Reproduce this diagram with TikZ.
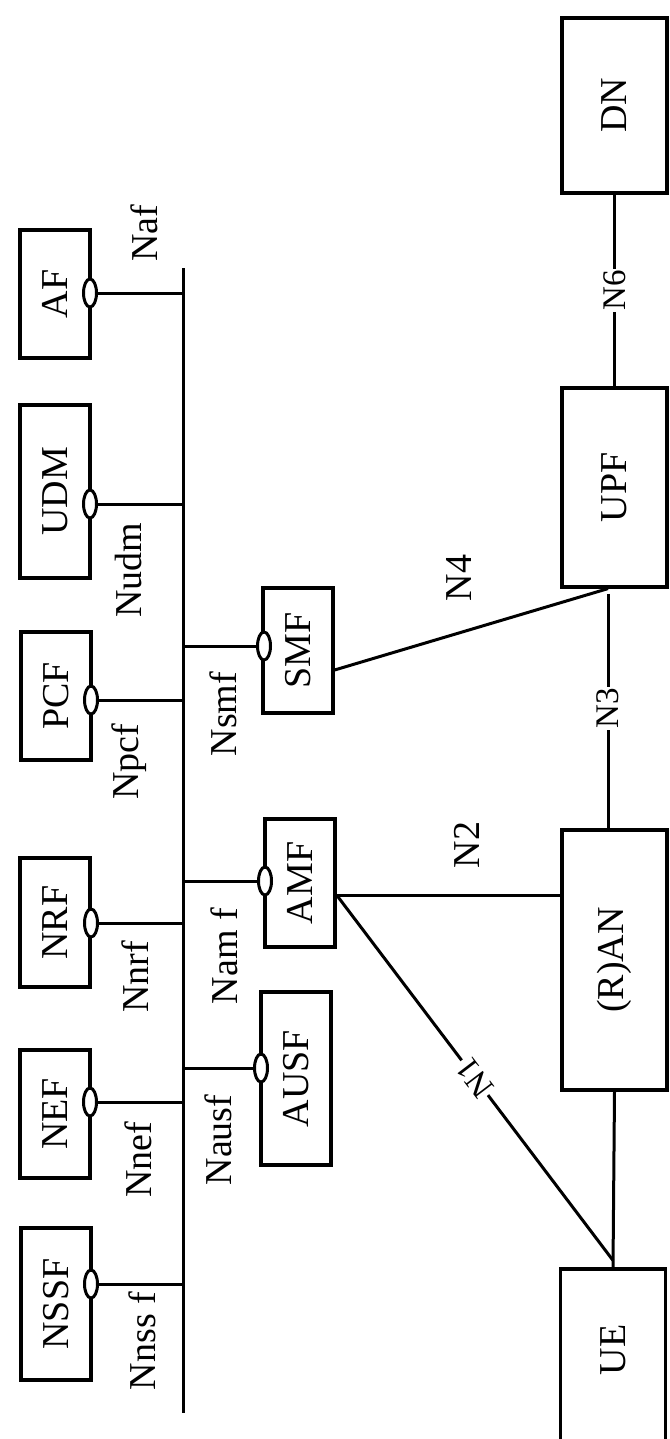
\documentclass[tikz,border=0pt]{standalone}
\usepackage{fontspec}
\usepackage{graphicx}
\setmainfont{Liberation Serif}
\usetikzlibrary{shapes.geometric}
\newcommand\biglbl{\fontsize{38}{40}\selectfont}
\newcommand\smalllbl{\fontsize{33}{35}\selectfont}
\begin{document}
\begin{tikzpicture}[x=1pt,y=-1pt,
  nf/.style={draw, line width=3.2pt, inner sep=0pt, font=\biglbl},
  lcol/.style={nf, minimum width=70pt},
  rcol/.style={nf, minimum width=105pt},
  ifc/.style={ellipse, draw, line width=3pt, fill=white, minimum width=13pt, minimum height=28pt, inner sep=0pt},
  ln/.style={line width=3pt},
  lbl/.style={inner sep=0pt, font=\biglbl},
  elbl/.style={fill=white, inner sep=1.5pt, font=\smalllbl}]
\clip (0,0) rectangle (669,1439);
\fill[white] (0,0) rectangle (669,1439);

% bus
\coordinate (bustop) at (183,268);
\coordinate (busbot) at (183,1413);
\draw[ln] (bustop) -- (busbot);

% left column
\node[lcol, minimum height=128pt] (af)   at (55,294)    {\rotatebox{90}{AF}};
\node[lcol, minimum height=173pt] (udm)  at (55,491.5)  {\rotatebox{90}{UDM}};
\node[lcol, minimum height=128pt] (pcf)  at (56,696)    {\rotatebox{90}{PCF}};
\node[lcol, minimum height=129pt] (nrf)  at (55,922.5)  {\rotatebox{90}{NRF}};
\node[lcol, minimum height=128pt] (nef)  at (55,1114)   {\rotatebox{90}{NEF}};
\node[lcol, minimum height=152pt] (nssf) at (56,1304)   {\rotatebox{90}{NSSF}};

% middle column
\node[lcol, minimum height=125pt] (smf)  at (298,650.5) {\rotatebox{90}{SMF}};
\node[lcol, minimum height=128pt] (amf)  at (300,883)   {\rotatebox{90}{AMF}};
\node[lcol, minimum height=173pt] (ausf) at (296,1078.5){\rotatebox{90}{AUSF}};

% right column
\node[rcol, minimum height=175pt] (dn)  at (614.5,105.5) {\rotatebox{90}{DN}};
\node[rcol, minimum height=199pt] (upf) at (614.5,487.5) {\rotatebox{90}{UPF}};
\node[rcol, minimum height=260pt] (ran) at (614.5,960)   {\rotatebox{90}{(R)AN}};
\node[rcol, minimum height=190pt] (ue)  at (613,1364)    {};
\node[lbl] (uetext) at (613,1350) {\rotatebox{90}{UE}};

% service interfaces
\node[ifc] (afi)   at (90,293)   {};
\node[ifc] (udmi)  at (90,504)   {};
\node[ifc] (pcfi)  at (91,700)   {};
\node[ifc] (nrfi)  at (91,923)   {};
\node[ifc] (nefi)  at (90,1102)  {};
\node[ifc] (nssfi) at (91,1284)  {};
\node[ifc] (smfi)  at (264,646)  {};
\node[ifc] (amfi)  at (265,881)  {};
\node[ifc] (ausfi) at (261,1068) {};

\foreach \i in {afi,udmi,pcfi,nrfi,nefi,nssfi}{
  \draw[ln] (\i.east) -- (\i.east -| bustop);
}
\foreach \i in {smfi,amfi,ausfi}{
  \draw[ln] (\i.west) -- (\i.west -| bustop);
}

% service interface labels
\node[lbl] (naf)   at (144,233)  {\rotatebox{90}{Naf}};
\node[lbl] (nudm)  at (129,570)  {\rotatebox{90}{Nudm}};
\node[lbl] (npcf)  at (129,762)  {\rotatebox{90}{Npcf}};
\node[lbl] (nnrf)  at (135,977)  {\rotatebox{90}{Nnrf}};
\node[lbl] (nnef)  at (138,1160) {\rotatebox{90}{Nnef}};
\node[lbl] (nnssf) at (142,1341) {\rotatebox{90}{Nnss f}};
\node[lbl] (nsmf)  at (223,714)  {\rotatebox{90}{Nsmf}};
\node[lbl] (namf)  at (224,956)  {\rotatebox{90}{Nam f}};
\node[lbl] (nausf) at (218,1140) {\rotatebox{90}{Nausf}};

% reference points
\coordinate (upfb) at ([xshift=-6.5pt]upf.south);
\coordinate (ranN3) at ([xshift=-6.5pt]ran.north);
\coordinate (smfo) at ([yshift=-19.5pt]smf.east);
\coordinate (amfo) at ([yshift=-12pt]amf.east);
\coordinate (n1end) at ([yshift=7pt]ue.north);

% reference points connectors
\draw[ln] (dn.south) -- node[elbl] (n6) {\rotatebox{90}{N6}} (upf.north);
\draw[ln, shorten <=5pt] (upfb) -- node[elbl, pos=0.5] (n3) {\rotatebox{90}{N3}} (ranN3);
\draw[ln] (smfo) -- (upfb);
\draw[ln] (amfo) -- (amfo -| ran.west);
\draw[ln] (amfo) -- node[elbl, rotate=127.3] (n1) {N1} (n1end);
\draw[ln] (ran.south) -- (ue.north);

\node[lbl] (n4) at (459,578) {\rotatebox{90}{N4}};
\node[lbl] (n2) at (467,845) {\rotatebox{90}{N2}};
\end{tikzpicture}
\end{document}
